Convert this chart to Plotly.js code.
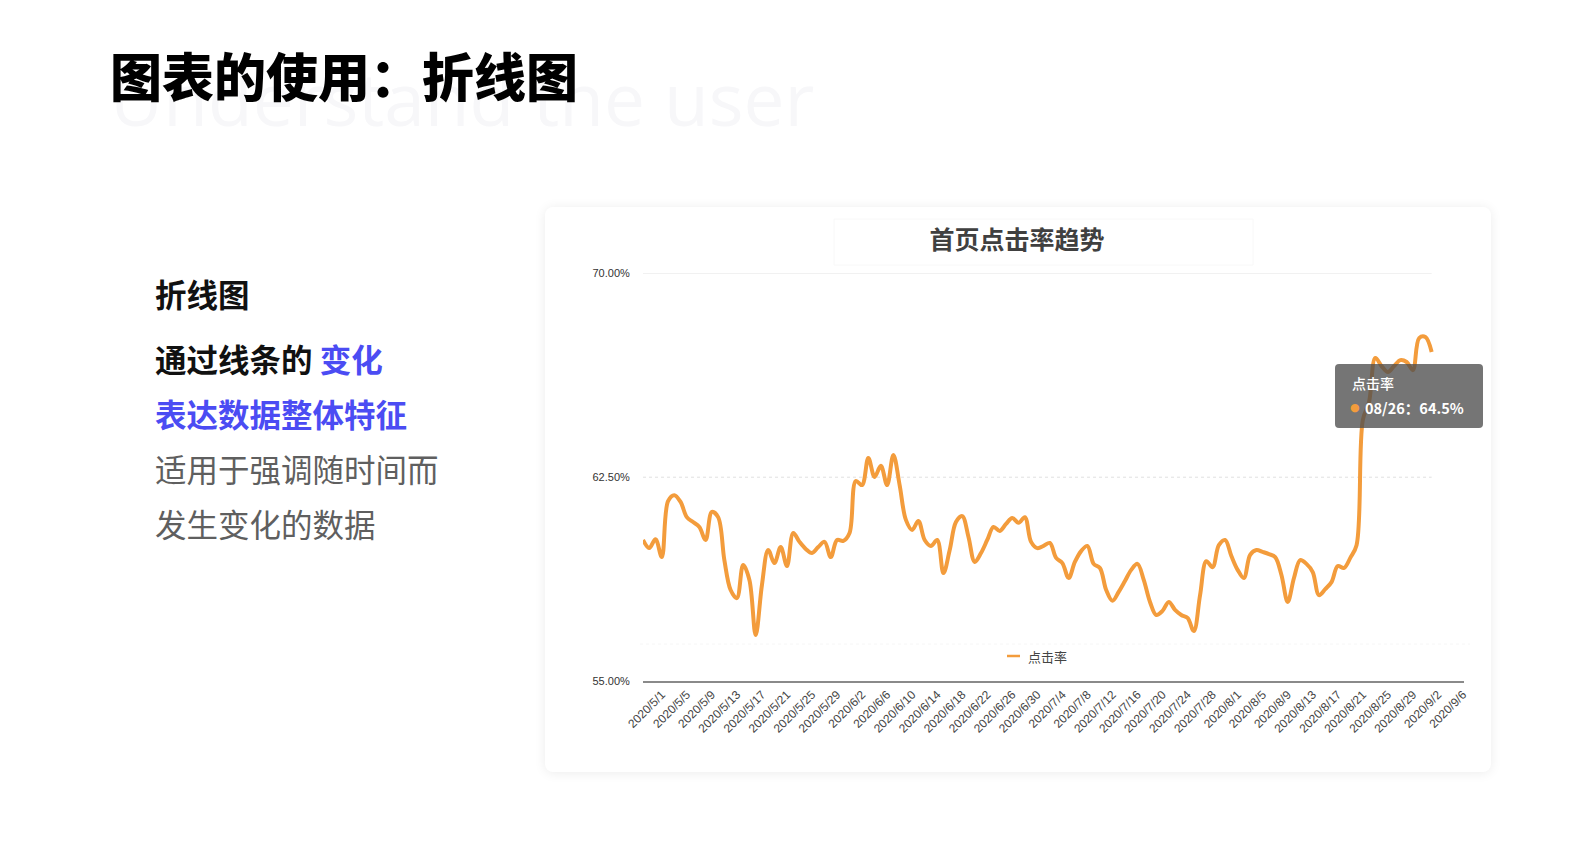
<!DOCTYPE html>
<html>
<head>
<meta charset="utf-8">
<script src="https://cdn.plot.ly/plotly-3.0.1.min.js"></script>
<style>
  html, body { margin:0; padding:0; background:#ffffff; overflow:hidden; }
  #card { position:absolute; left:545px; top:207px; width:946px; height:565px; background:#fff;
          border-radius:8px; box-shadow:0 1px 12px rgba(0,0,0,0.08); }
  #chart { position:absolute; left:0; top:0; width:1582px; height:862px; }
</style>
</head>
<body>
<div id="card"></div>
<div id="chart"></div>
<script>
// ---- data ----
const dates = [
 "2020-04-28","2020-04-29","2020-04-30",
 "2020-05-01","2020-05-02","2020-05-03","2020-05-04","2020-05-05","2020-05-06","2020-05-07","2020-05-08","2020-05-09","2020-05-10",
 "2020-05-11","2020-05-12","2020-05-13","2020-05-14","2020-05-15","2020-05-16","2020-05-17","2020-05-18","2020-05-19","2020-05-20",
 "2020-05-21","2020-05-22","2020-05-23","2020-05-24","2020-05-25","2020-05-26","2020-05-27","2020-05-28","2020-05-29","2020-05-30","2020-05-31",
 "2020-06-01","2020-06-02","2020-06-03","2020-06-04","2020-06-05","2020-06-06","2020-06-07","2020-06-08","2020-06-09","2020-06-10",
 "2020-06-11","2020-06-12","2020-06-13","2020-06-14","2020-06-15","2020-06-16","2020-06-17","2020-06-18","2020-06-19","2020-06-20",
 "2020-06-21","2020-06-22","2020-06-23","2020-06-24","2020-06-25","2020-06-26","2020-06-27","2020-06-28","2020-06-29","2020-06-30",
 "2020-07-01","2020-07-02","2020-07-03","2020-07-04","2020-07-05","2020-07-06","2020-07-07","2020-07-08","2020-07-09","2020-07-10",
 "2020-07-11","2020-07-12","2020-07-13","2020-07-14","2020-07-15","2020-07-16","2020-07-17","2020-07-18","2020-07-19","2020-07-20",
 "2020-07-21","2020-07-22","2020-07-23","2020-07-24","2020-07-25","2020-07-26","2020-07-27","2020-07-28","2020-07-29","2020-07-30","2020-07-31",
 "2020-08-01","2020-08-02","2020-08-03","2020-08-04","2020-08-05","2020-08-06","2020-08-07","2020-08-08","2020-08-09","2020-08-10",
 "2020-08-11","2020-08-12","2020-08-13","2020-08-14","2020-08-15","2020-08-16","2020-08-17","2020-08-18","2020-08-19","2020-08-20",
 "2020-08-21","2020-08-22","2020-08-23","2020-08-24","2020-08-25","2020-08-26","2020-08-27","2020-08-28","2020-08-29","2020-08-30","2020-08-31",
 "2020-09-01"
];
const clickRate = [
 60.19,59.89,60.22,59.56,61.62,61.84,61.59,61.03,60.85,60.67,
 60.19,61.22,61.03,59.45,58.35,58.05,59.27,58.72,56.69,58.53,
 59.82,59.34,59.93,59.23,60.45,60.12,59.86,59.71,59.93,60.12,
 59.56,60.19,60.16,60.45,62.36,62.21,63.21,62.51,62.92,62.21,
 63.32,62.21,60.93,60.56,60.89,60.19,59.97,60.19,58.97,59.82,
 60.85,61.07,60.30,59.38,59.71,60.19,60.67,60.52,60.78,61.00,
 60.82,61.03,60.12,59.89,59.97,60.08,59.53,59.34,58.79,59.38,
 59.78,59.97,59.31,59.16,58.35,57.95,58.28,58.68,59.09,59.31,
 58.72,57.91,57.43,57.58,57.91,57.62,57.43,57.32,56.84,58.16,
 59.41,59.19,60.00,60.19,59.60,59.09,58.79,59.64,59.82,59.75,
 59.67,59.56,58.90,57.91,58.79,59.45,59.31,59.01,58.16,58.38,
 58.64,59.23,59.16,59.53,60.00,64.60,65.27,66.89,66.59,66.37,
 66.59,66.81,66.74,66.44,67.62,67.66,67.11
];
const tickDates = [
 "2020-05-01","2020-05-05","2020-05-09","2020-05-13","2020-05-17","2020-05-21","2020-05-25","2020-05-29",
 "2020-06-02","2020-06-06","2020-06-10","2020-06-14","2020-06-18","2020-06-22","2020-06-26","2020-06-30",
 "2020-07-04","2020-07-08","2020-07-12","2020-07-16","2020-07-20","2020-07-24","2020-07-28",
 "2020-08-01","2020-08-05","2020-08-09","2020-08-13","2020-08-17","2020-08-21","2020-08-25","2020-08-29",
 "2020-09-02","2020-09-06"
];
const tickLabels = [
 "2020/5/1","2020/5/5","2020/5/9","2020/5/13","2020/5/17","2020/5/21","2020/5/25","2020/5/29",
 "2020/6/2","2020/6/6","2020/6/10","2020/6/14","2020/6/18","2020/6/22","2020/6/26","2020/6/30",
 "2020/7/4","2020/7/8","2020/7/12","2020/7/16","2020/7/20","2020/7/24","2020/7/28",
 "2020/8/1","2020/8/5","2020/8/9","2020/8/13","2020/8/17","2020/8/21","2020/8/25","2020/8/29",
 "2020/9/2","2020/9/6"
];
const yTickVals = [55, 62.5, 70];
const yTickLabels = ["55.00%", "62.50%", "70.00%"];
const gridValues = [62.5, 70];
const seriesName = "点击率";
const tooltipDate = "08/26";
const tooltipValue = "64.5%";

// ---- layout helpers ----
const W = 1582, H = 862;
const px = x => x / W;
const py = y => 1 - y / H;
const CJK = "Noto Sans CJK SC, sans-serif";
const ORANGE = "#f39c3c";
const BLUE = "#4b4cf3";

function roundRect(x0, y0, x1, y1, r) {
  const rx = r / W, ry = r / H;
  const a = px(x0), b = px(x1), t = py(y0), u = py(y1);
  return `M${a + rx},${t} L${b - rx},${t} Q${b},${t} ${b},${t - ry} L${b},${u + ry} Q${b},${u} ${b - rx},${u} ` +
         `L${a + rx},${u} Q${a},${u} ${a},${u + ry} L${a},${t - ry} Q${a},${t} ${a + rx},${t} Z`;
}

const trace = {
  x: dates, y: clickRate, name: seriesName, type: "scatter", mode: "lines",
  line: { shape: "spline", smoothing: 1, color: ORANGE, width: 4 },
  hoverinfo: "skip"
};

const shapes = [];
gridValues.forEach(v => shapes.push({
  type: "line", xref: "x", yref: "y", x0: dates[0], x1: dates[dates.length - 1], y0: v, y1: v,
  line: { color: "#e0e0e0", width: 1, dash: v === 70 ? "solid" : "dot" }, layer: "below"
}));
// faint artefacts of the original screenshot
shapes.push({ type: "rect", xref: "paper", yref: "paper", x0: px(834), x1: px(1253), y0: py(219), y1: py(265),
  line: { color: "#f8f8f8", width: 1 }, layer: "below" });
shapes.push({ type: "line", xref: "paper", yref: "paper", x0: px(640), x1: px(1470), y0: py(644), y1: py(644),
  line: { color: "#f6f6f6", width: 1, dash: "dot" }, layer: "below" });
// legend symbol
shapes.push({ type: "line", xref: "paper", yref: "paper", x0: px(1007), x1: px(1020), y0: py(656), y1: py(656),
  line: { color: ORANGE, width: 2.5 } });
// tooltip box
shapes.push({ type: "path", xref: "paper", yref: "paper", path: roundRect(1335, 364, 1483, 428, 4),
  fillcolor: "rgba(78,78,78,0.78)", line: { width: 0 }, layer: "above" });

const annotations = [
  { text: "Understand the user", x: px(108), y: py(98), xanchor: "left", yanchor: "middle",
    font: { family: "Open Sans, sans-serif", size: 73, color: "#f7f7f9" } },
  { text: "图表的使用：折线图", x: px(108), y: py(75), xanchor: "left", yanchor: "middle",
    font: { family: CJK, size: 52, color: "#000000", weight: 900 } },
  { text: "折线图", x: px(153), y: py(293), xanchor: "left", yanchor: "middle",
    font: { family: CJK, size: 31.5, color: "#111111", weight: 700 } },
  { text: "通过线条的 <span style='color:" + BLUE + "'>变化</span>", x: px(153), y: py(358), xanchor: "left", yanchor: "middle",
    font: { family: CJK, size: 31.5, color: "#111111", weight: 700 } },
  { text: "表达数据整体特征", x: px(153), y: py(413), xanchor: "left", yanchor: "middle",
    font: { family: CJK, size: 31.5, color: BLUE, weight: 700 } },
  { text: "适用于强调随时间而", x: px(153), y: py(468), xanchor: "left", yanchor: "middle",
    font: { family: CJK, size: 31.5, color: "#5f5f5f" } },
  { text: "发生变化的数据", x: px(153), y: py(523), xanchor: "left", yanchor: "middle",
    font: { family: CJK, size: 31.5, color: "#5f5f5f" } },
  { text: seriesName, x: px(1026), y: py(656), xanchor: "left", yanchor: "middle",
    font: { family: CJK, size: 13, color: "#444444" } },
  { text: seriesName, x: px(1350), y: py(383), xanchor: "left", yanchor: "middle",
    font: { family: CJK, size: 14, color: "#ffffff", weight: 500 } },
  { text: "●", x: px(1355), y: py(407), xanchor: "center", yanchor: "middle",
    font: { family: "DejaVu Sans, sans-serif", size: 11, color: ORANGE } },
  { text: tooltipDate + "：" + tooltipValue, x: px(1363), y: py(407), xanchor: "left", yanchor: "middle",
    font: { family: CJK, size: 14.5, color: "#ffffff", weight: 700 } }
].map(a => Object.assign({ xref: "paper", yref: "paper", showarrow: false, align: "left" }, a));

const layout = {
  width: W, height: H,
  margin: { l: 0, r: 0, t: 0, b: 0 },
  paper_bgcolor: "rgba(0,0,0,0)", plot_bgcolor: "rgba(0,0,0,0)",
  showlegend: false,
  font: { family: CJK },
  title: { text: "<b>首页点击率趋势</b>", x: px(1017), y: py(240), xref: "paper", yref: "paper",
           xanchor: "center", yanchor: "middle",
           font: { family: CJK, size: 25, color: "#404040" } },
  xaxis: {
    type: "date", domain: [px(643), px(1464)], range: ["2020-04-28", "2020-09-06 04:00"],
    tickmode: "array", tickvals: tickDates, ticktext: tickLabels, tickangle: -45,
    ticks: "", showgrid: false, zeroline: false, showline: true, linecolor: "#8a8a8a", linewidth: 2,
    tickfont: { family: "Liberation Sans, Arial, sans-serif", size: 12, color: "#444444" }
  },
  yaxis: {
    domain: [py(681), py(273.4)], range: [55, 70],
    tickmode: "array", tickvals: yTickVals, ticktext: yTickLabels,
    ticks: "outside", ticklen: 10, tickcolor: "rgba(0,0,0,0)",
    showgrid: false, zeroline: false, showline: false,
    tickfont: { family: "Liberation Sans, Arial, sans-serif", size: 11, color: "#333333" }
  },
  shapes: shapes,
  annotations: annotations
};

Plotly.newPlot("chart", [trace], layout, { staticPlot: true, displayModeBar: false });
</script>
</body>
</html>
